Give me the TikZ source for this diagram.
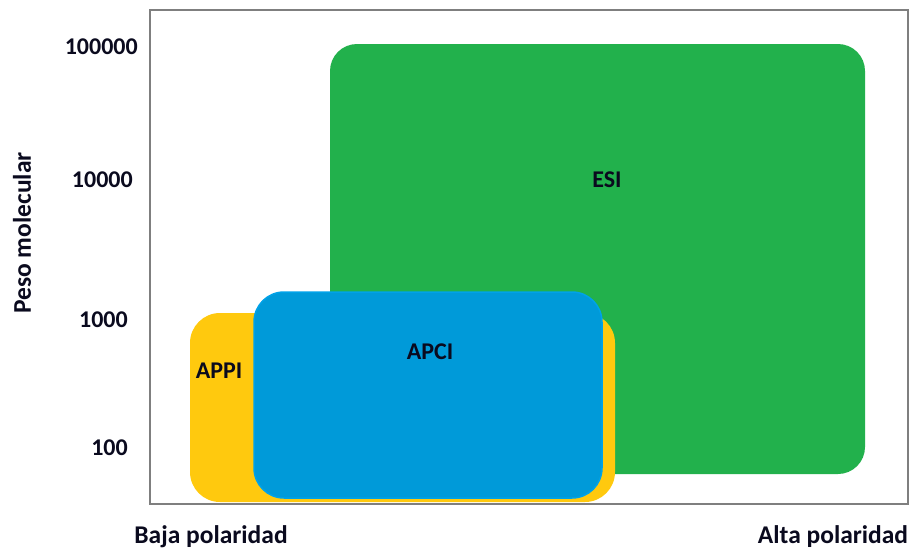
\documentclass[tikz,border=0pt]{standalone}
\usepackage{fontspec}
\setmainfont{Carlito}
\definecolor{esigreen}{HTML}{22B14C}
\definecolor{appiyellow}{HTML}{FFC90E}
\definecolor{apciblue}{HTML}{009AD9}
\definecolor{apciedge}{HTML}{00A2E8}
\definecolor{framegray}{HTML}{7F7F7F}
\definecolor{txt}{HTML}{0A0A1E}
\begin{document}
\begin{tikzpicture}[x=1pt,y=-1pt,
  lbl/.style={font=\fontsize{24}{24}\selectfont\bfseries, text=txt, inner sep=0pt},
  axlbl/.style={font=\fontsize{25.5}{25.5}\selectfont\bfseries, text=txt, inner sep=0pt},
  tick/.style={lbl, anchor=east},
  region/.style={rounded corners=27pt}]
\useasboundingbox[fill=white] (0,0) rectangle (911,550);
\draw[framegray, line width=1.4pt] (150,10) rectangle (908,504);
\fill[esigreen, region] (330,44) rectangle (865,474);
\fill[appiyellow, rounded corners=30pt] (190,313) rectangle (615,502);
\filldraw[fill=apciblue, draw=apciedge, line width=1.5pt, rounded corners=30pt] (254,292) rectangle (602,498);
\node[lbl] (esi) at (607,180) {ESI};
\node[lbl] (apci) at (430,352) {APCI};
\node[lbl] (appi) at (219,371) {APPI};
\node[tick] (t5) at (138,47) {100000};
\node[tick] (t4) at (133,180) {10000};
\node[tick] (t3) at (128,320) {1000};
\node[tick] (t2) at (128,448) {100};
\node[axlbl, rotate=90] (ylab) at (22,233) {Peso molecular};
\node[axlbl] (xlow) at (211,537) {Baja polaridad};
\node[axlbl] (xhigh) at (833,537) {Alta polaridad};
\end{tikzpicture}
\end{document}
